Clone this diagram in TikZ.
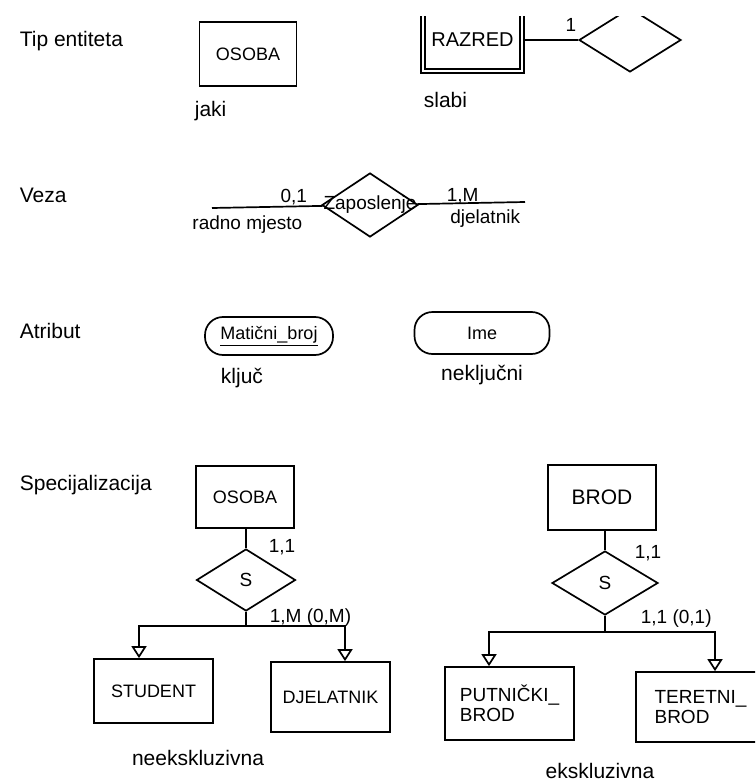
\documentclass[tikz,border=0pt]{standalone}
\usepackage{fontspec}
\setmainfont{Liberation Sans}
\usetikzlibrary{shapes, shapes.geometric, arrows, arrows.meta}

\begin{document}
\begin{tikzpicture}[x=1pt, y=-1pt, line width=1.7pt,
            ent/.style={draw, rectangle, inner sep=0pt, font=\fontsize{18}{20}\selectfont},
            rel/.style={draw, diamond, inner sep=0pt, font=\fontsize{19}{22}\selectfont},
            att/.style={draw, rectangle, rounded corners=18pt, inner sep=0pt, font=\fontsize{18}{20}\selectfont},
            txt/.style={inner sep=0pt, font=\fontsize{21}{24}\selectfont},
            card/.style={inner sep=1pt, font=\fontsize{19}{22}\selectfont},
            isa/.style={-{Triangle[open, width=15pt, length=12pt]}}]
            \useasboundingbox (0,0) rectangle (755,781);
            \begin{scope}
            \clip (0,17) rectangle (755,781);

            \node[txt, anchor=base west] (t0) at (19,47) {Tip entiteta};
            \node[ent, minimum width=97pt, minimum height=64pt] (n0) at (248,54) {OSOBA};
            \node[txt, anchor=base west] (t1) at (194,117) {jaki};
            \node[ent, double, double distance=2.6pt, minimum width=99pt, minimum height=62pt, font=\fontsize{20}{22}\selectfont] (n1) at (472.5,40) {RAZRED};
            \node[rel, minimum width=102pt, minimum height=64pt] (n2) at (630,40) {};
            \node[txt, anchor=base west] (t2) at (423,107) {slabi};
            \draw (n1) -- node[card, pos=0.87, above=7pt] {1} (n2);

            \node[txt, anchor=base west] (t3) at (19,202) {Veza};
            \coordinate (c0) at (212,208);
            \node[rel, minimum width=96pt, minimum height=64pt] (n3) at (370,205) {};
            \node[card, inner sep=0pt] (z0) at (n3) {Zaposlenje};
            \coordinate (c1) at (525,202);
            \draw (c0) -- node[card, pos=0.74, above] {0,1} node[card, pos=0.32, below=7pt] {radno mjesto} (n3);
            \draw (n3) -- node[card, pos=0.42, above=-3pt] {1,M} node[card, pos=0.63, below=5pt] {djelatnik} (c1);

            \node[txt, anchor=base west] (t4) at (19,338) {Atribut};
            \node[att, minimum width=128pt, minimum height=38pt] (n4) at (269,336) {\underline{Matični\_broj}};
            \node[att, minimum width=135pt, minimum height=42pt] (n5) at (482,333) {Ime};
            \node[txt, anchor=base] (t5) at (242,383) {ključ};
            \node[txt, anchor=base] (t6) at (482,380) {neključni};

            \node[txt, anchor=base west] (t7) at (19,490) {Specijalizacija};
            \node[ent, minimum width=98pt, minimum height=62pt] (n6) at (245,497) {OSOBA};
            \node[rel, minimum width=99pt, minimum height=62pt] (n7) at (246,580) {S};
            \coordinate (c2) at (246,626);
            \coordinate (c3) at (139,626);
            \coordinate (c4) at (345,626);
            \node[ent, minimum width=119pt, minimum height=64pt] (n8) at (153.5,691) {STUDENT};
            \node[ent, minimum width=119pt, minimum height=70pt] (n9) at (330.5,697) {DJELATNIK};
            \node[card, anchor=west] (k0) at (267,547) {1,1};
            \node[card, anchor=west] (k1) at (268,618) {1,M (0,M)};
            \node[txt, anchor=base] (t8) at (198,765) {neekskluzivna};
            \draw (n7.north |- n6.south) -- (n7);
            \draw (n7) -- (c2);
            \draw[isa] (c2) -| (n8.north -| c3);
            \draw[isa] (c2) -| (n9.north -| c4);

            \node[ent, minimum width=108pt, minimum height=65pt, font=\fontsize{21}{24}\selectfont] (n10) at (602,497.5) {BROD};
            \node[rel, minimum width=106pt, minimum height=64pt] (n11) at (605,583) {S};
            \coordinate (c5) at (605,632);
            \coordinate (c6) at (489,632);
            \coordinate (c7) at (715,632);
            \node[ent, align=left, minimum width=129pt, minimum height=73pt, font=\fontsize{19}{20}\selectfont] (n12) at (509.5,703.5) {PUTNIČKI\_\\BROD};
            \node[ent, align=left, minimum width=129pt, minimum height=70pt, font=\fontsize{19}{20}\selectfont] (n13) at (700.5,707) {TERETNI\_\\BROD};
            \node[card, anchor=west] (k2) at (633,553) {1,1};
            \node[card, anchor=west] (k3) at (639,619) {1,1 (0,1)};
            \node[txt, anchor=base] (t9) at (600,778) {ekskluzivna};
            \draw (n11.north |- n10.south) -- (n11);
            \draw (n11) -- (c5);
            \draw[isa] (c5) -| (n12.north -| c6);
            \draw[isa] (c5) -| (n13.north -| c7);
            \end{scope}
\end{tikzpicture}
\end{document}
